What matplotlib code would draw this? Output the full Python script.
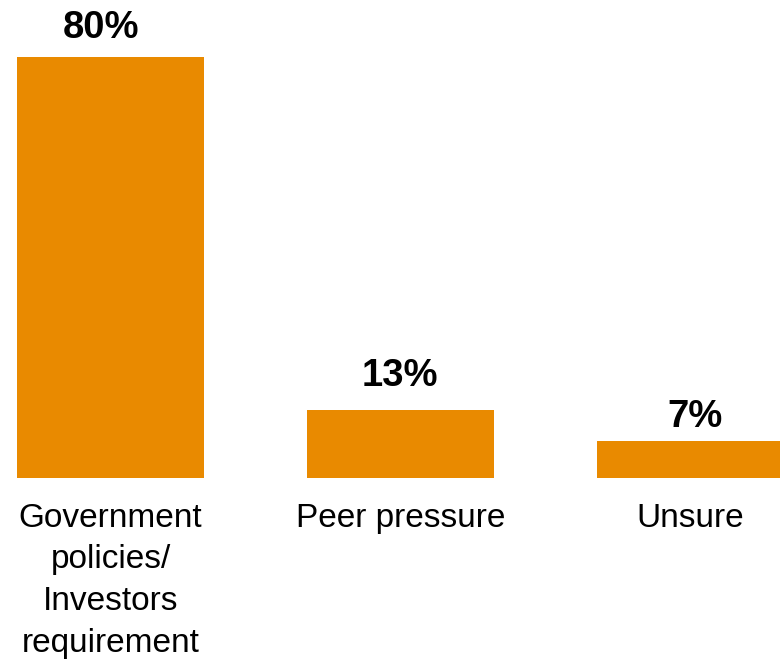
import numpy
import matplotlib
matplotlib.use("Agg")
import matplotlib.pyplot as plt

plt.rcParams['font.family'] = ['Liberation Sans', 'DejaVu Sans']

categories = ["Government\npolicies/\nInvestors\nrequirement",
              "Peer pressure",
              "Unsure"]
shares = [80, 13, 7]
bar_labels = ["80%", "13%", "7%"]

orange = "#E98A00"
# nudges (px) for the value labels, relative to each bar's top centre
label_nudge = [(-9.5, 18.7), (-1.0, 23.3), (4.5, 14.0)]

fig = plt.figure(figsize=(7.8, 6.59), dpi=100)
ax = fig.add_axes([0, 0, 1, 1])

pos = numpy.arange(len(categories))
ax.bar(pos, shares, width=0.645, color=orange, edgecolor="none")

# value labels above each bar
for x, v, lab, (dx, dy) in zip(pos, shares, bar_labels, label_nudge):
    ax.annotate(lab, xy=(x, v), xytext=(dx, dy), textcoords="offset pixels",
                ha="center", va="baseline",
                fontsize=27.5, fontweight="bold", color="black")

# category names under the bars; baseline is the last line, so push
# multi-line names down by their extra lines
line_px = 41.5
for x, cat in zip(pos, categories):
    extra = cat.count("\n")
    ax.annotate(cat, xy=(x, 0), xytext=(0, -49 - extra * line_px),
                textcoords="offset pixels", ha="center", va="baseline",
                fontsize=24, color="black", linespacing=1.44)

ax.set_xlim(-0.381, 2.309)
ax.set_ylim(-34.39, 90.83)
ax.axis("off")

plt.savefig("out.png", dpi=100)
